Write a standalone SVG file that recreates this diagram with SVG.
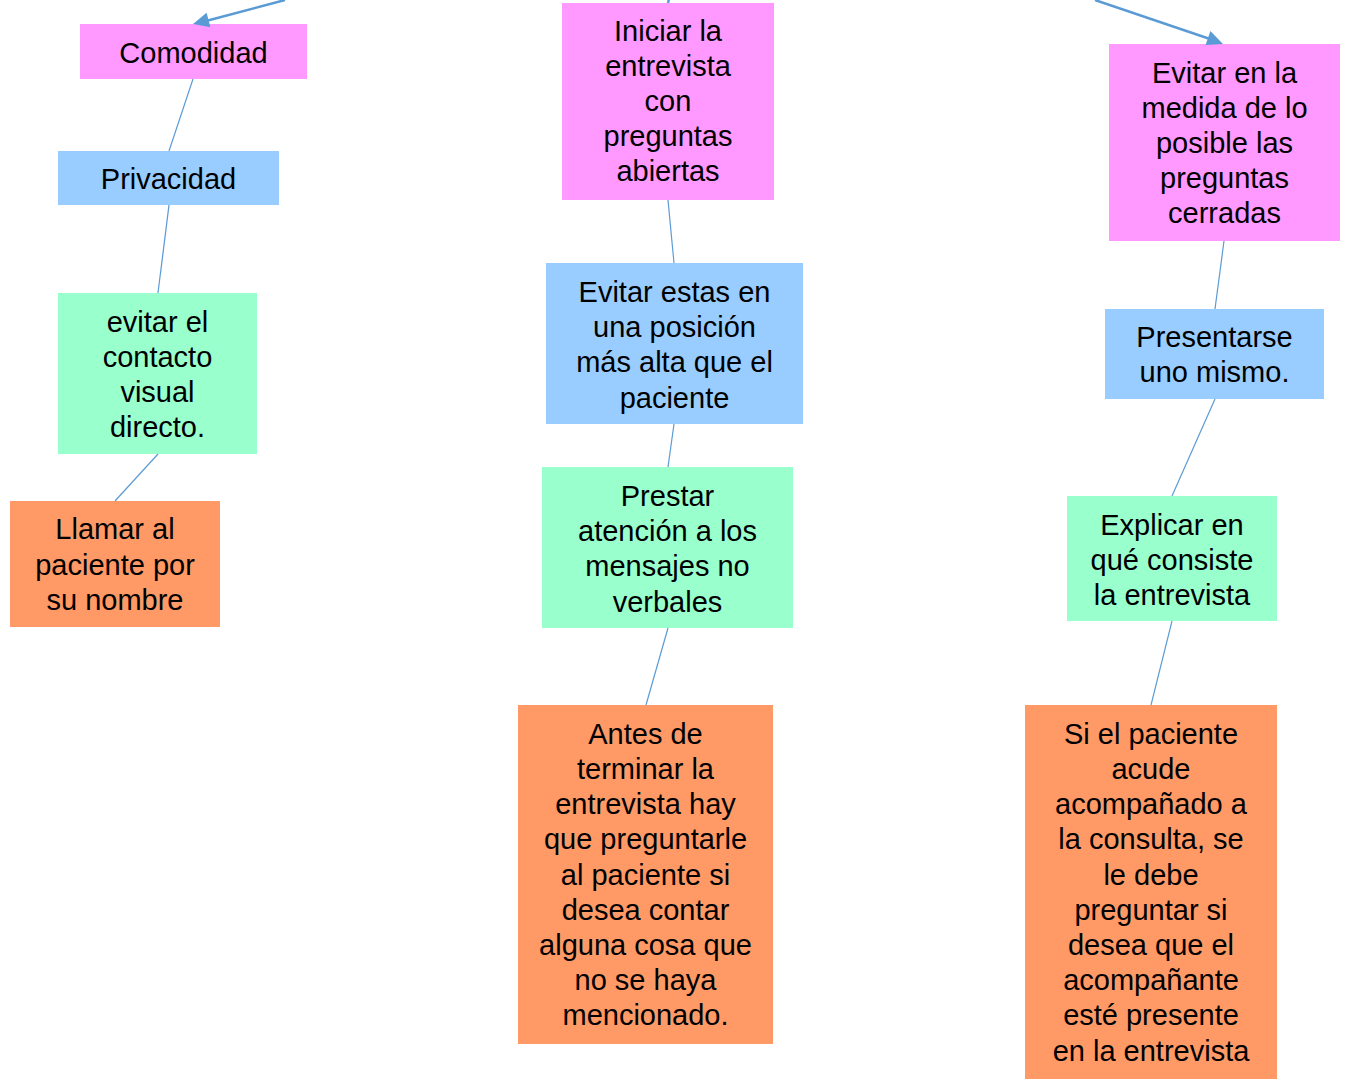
<svg xmlns="http://www.w3.org/2000/svg" width="1345" height="1085" viewBox="0 0 1345 1085">
<style>
.pink{fill:#FF99FF}.blue{fill:#99CCFF}.green{fill:#99FFCC}.orange{fill:#FF9966}
text{font-family:"Liberation Sans",Arial,sans-serif;font-size:29px;fill:#000;text-anchor:middle}
.thin{stroke:#5B9BD5;stroke-width:1.2;fill:none}
.thick{stroke:#5B9BD5;stroke-width:2.5;fill:none}
.head{fill:#5B9BD5}
</style>
<rect width="1345" height="1085" fill="#fff"/>
<g id="comodidad"><rect class="pink" x="80" y="24" width="227" height="55"/><text x="193.5" y="63">Comodidad</text></g>
<g id="iniciar"><rect class="pink" x="562" y="3" width="212" height="197"/>
<text x="668"><tspan x="668" y="41">Iniciar la</tspan><tspan x="668" y="76">entrevista</tspan><tspan x="668" y="111">con</tspan><tspan x="668" y="146">preguntas</tspan><tspan x="668" y="181">abiertas</tspan></text></g>
<g id="evitar-cerradas"><rect class="pink" x="1109" y="44" width="231" height="197"/>
<text><tspan x="1224.5" y="83">Evitar en la</tspan><tspan x="1224.5" y="118">medida de lo</tspan><tspan x="1224.5" y="153">posible las</tspan><tspan x="1224.5" y="188">preguntas</tspan><tspan x="1224.5" y="223">cerradas</tspan></text></g>
<g id="privacidad"><rect class="blue" x="58" y="151" width="221" height="54"/><text x="168.5" y="189">Privacidad</text></g>
<g id="contacto"><rect class="green" x="58" y="293" width="199" height="161"/>
<text><tspan x="157.5" y="332">evitar el</tspan><tspan x="157.5" y="367">contacto</tspan><tspan x="157.5" y="402">visual</tspan><tspan x="157.5" y="437">directo.</tspan></text></g>
<g id="llamar"><rect class="orange" x="10" y="501" width="210" height="126"/>
<text><tspan x="115" y="539">Llamar al</tspan><tspan x="115" y="575">paciente por</tspan><tspan x="115" y="610">su nombre</tspan></text></g>
<g id="posicion"><rect class="blue" x="546" y="263" width="257" height="161"/>
<text><tspan x="674.5" y="302">Evitar estas en</tspan><tspan x="674.5" y="337">una posición</tspan><tspan x="674.5" y="372">más alta que el</tspan><tspan x="674.5" y="408">paciente</tspan></text></g>
<g id="prestar"><rect class="green" x="542" y="467" width="251" height="161"/>
<text><tspan x="667.5" y="506">Prestar</tspan><tspan x="667.5" y="541">atención a los</tspan><tspan x="667.5" y="576">mensajes no</tspan><tspan x="667.5" y="612">verbales</tspan></text></g>
<g id="antes"><rect class="orange" x="518" y="705" width="255" height="339"/>
<text><tspan x="645.5" y="744">Antes de</tspan><tspan x="645.5" y="779">terminar la</tspan><tspan x="645.5" y="814">entrevista hay</tspan><tspan x="645.5" y="849">que preguntarle</tspan><tspan x="645.5" y="885">al paciente si</tspan><tspan x="645.5" y="920">desea contar</tspan><tspan x="645.5" y="955">alguna cosa que</tspan><tspan x="645.5" y="990">no se haya</tspan><tspan x="645.5" y="1025">mencionado.</tspan></text></g>
<g id="presentarse"><rect class="blue" x="1105" y="309" width="219" height="90"/>
<text><tspan x="1214.5" y="347">Presentarse</tspan><tspan x="1214.5" y="382">uno mismo.</tspan></text></g>
<g id="explicar"><rect class="green" x="1067" y="496" width="210" height="125"/>
<text><tspan x="1172" y="535">Explicar en</tspan><tspan x="1172" y="570">qué consiste</tspan><tspan x="1172" y="605">la entrevista</tspan></text></g>
<g id="acompanado"><rect class="orange" x="1025" y="705" width="252" height="374"/>
<text><tspan x="1151" y="744">Si el paciente</tspan><tspan x="1151" y="779">acude</tspan><tspan x="1151" y="814">acompañado a</tspan><tspan x="1151" y="849">la consulta, se</tspan><tspan x="1151" y="885">le debe</tspan><tspan x="1151" y="920">preguntar si</tspan><tspan x="1151" y="955">desea que el</tspan><tspan x="1151" y="990">acompañante</tspan><tspan x="1151" y="1025">esté presente</tspan><tspan x="1151" y="1061">en la entrevista</tspan></text></g>
<g id="connectors">
<line class="thick" x1="285" y1="0" x2="206" y2="21"/>
<polygon class="head" points="193,24 206.6,12.7 210.4,27.3"/>
<line class="thick" x1="1095" y1="0" x2="1210" y2="39"/>
<polygon class="head" points="1223,44 1205.6,45 1210.4,31"/>
<line class="thick" x1="670" y1="-6" x2="668" y2="3"/>
<line class="thin" x1="193" y1="79" x2="169" y2="151"/>
<line class="thin" x1="169" y1="205" x2="158" y2="293"/>
<line class="thin" x1="158" y1="454" x2="115" y2="501"/>
<line class="thin" x1="668" y1="200" x2="674" y2="263"/>
<line class="thin" x1="674" y1="424" x2="668" y2="467"/>
<line class="thin" x1="668" y1="628" x2="646" y2="705"/>
<line class="thin" x1="1224" y1="241" x2="1215" y2="309"/>
<line class="thin" x1="1215" y1="399" x2="1172" y2="496"/>
<line class="thin" x1="1172" y1="621" x2="1151" y2="705"/>
</g>
</svg>
